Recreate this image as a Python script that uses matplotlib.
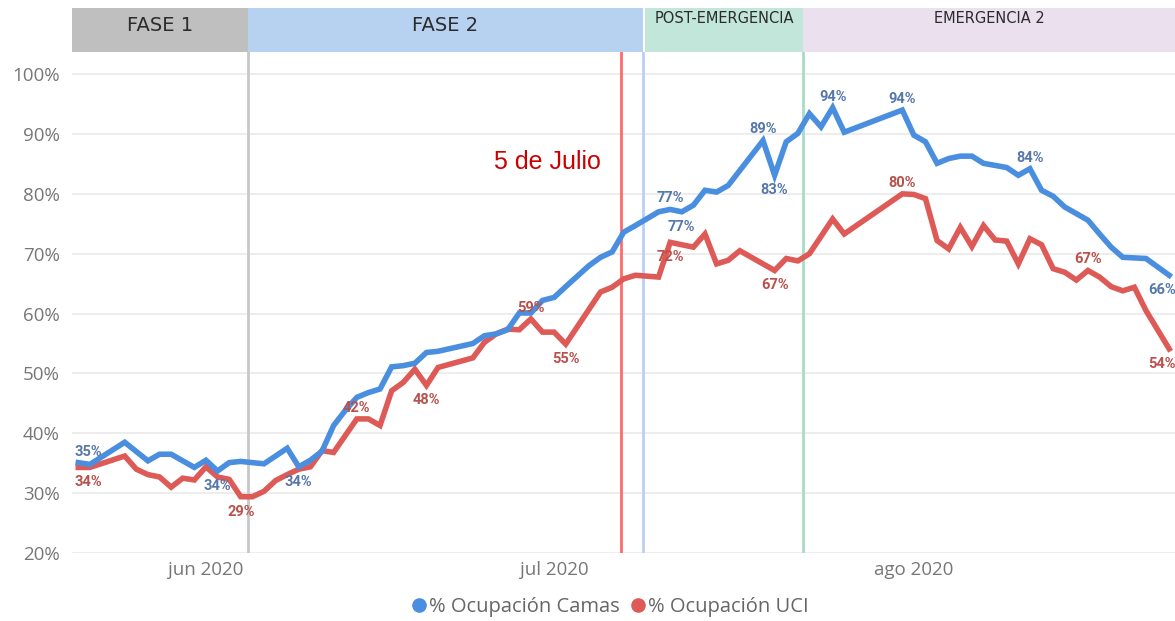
import numpy as np
import matplotlib
matplotlib.use("Agg")
import matplotlib.pyplot as plt
from matplotlib.lines import Line2D

# day 0 = 2020-05-21
start_date = np.datetime64("2020-05-21")

camas_days = [0, 1, 4, 6, 7, 8, 10, 11, 12, 13, 14, 16, 18, 19, 20, 21, 22, 23, 24, 25,
              26, 27, 28, 29, 30, 31, 34, 35, 36, 37, 38, 39, 40, 41, 42, 44, 45, 46, 47, 48,
              50, 51, 52, 53, 54, 55, 56, 59, 60, 61, 62, 63, 64, 65, 66, 71, 72, 73, 74, 75,
              76, 77, 78, 80, 81, 82, 83, 84, 85, 87, 88, 89, 90, 92, 94]
camas_vals = [35.1, 34.8, 38.5, 35.4, 36.5, 36.5, 34.3, 35.5, 33.7, 35.1, 35.3, 34.9, 37.5, 34.4, 35.5, 37.0, 41.3, 43.8, 46.0, 46.8,
              47.4, 51.1, 51.3, 51.7, 53.5, 53.7, 55.0, 56.3, 56.6, 57.3, 60.1, 60.1, 62.2, 62.7, 64.5, 68.0, 69.4, 70.3, 73.6, 74.7,
              77.0, 77.4, 77.0, 78.1, 80.6, 80.3, 81.4, 88.9, 83.1, 88.7, 90.1, 93.4, 91.2, 94.4, 90.3, 94.0, 89.8, 88.7, 85.1, 85.9,
              86.3, 86.3, 85.1, 84.4, 83.1, 84.2, 80.6, 79.6, 77.8, 75.6, 73.3, 71.1, 69.4, 69.2, 66.4]

uci_days = [0, 1, 4, 5, 6, 7, 8, 9, 10, 11, 12, 13, 14, 15, 16, 17, 18, 19, 20, 21,
            22, 24, 25, 26, 27, 28, 29, 30, 31, 34, 35, 36, 37, 38, 39, 40, 41, 42, 45, 46,
            47, 48, 50, 51, 53, 54, 55, 56, 57, 60, 61, 62, 63, 65, 66, 71, 72, 73, 74, 75,
            76, 77, 78, 79, 80, 81, 82, 83, 84, 85, 86, 87, 88, 89, 90, 91, 92, 94]
uci_vals = [34.3, 34.3, 36.2, 34.0, 33.1, 32.7, 31.0, 32.5, 32.2, 34.4, 32.7, 32.3, 29.4, 29.4, 30.3, 32.1, 33.1, 34.0, 34.4, 37.1,
            36.8, 42.4, 42.4, 41.3, 47.1, 48.5, 50.7, 48.0, 51.0, 52.6, 55.2, 56.6, 57.4, 57.3, 59.1, 56.9, 56.9, 54.9, 63.6, 64.4,
            65.8, 66.4, 66.1, 71.9, 71.1, 73.3, 68.3, 68.9, 70.5, 67.2, 69.2, 68.8, 70.0, 75.8, 73.3, 80.0, 79.9, 79.2, 72.2, 70.8,
            74.4, 71.2, 74.7, 72.3, 72.1, 68.3, 72.5, 71.5, 67.5, 66.9, 65.6, 67.2, 66.1, 64.5, 63.8, 64.4, 60.5, 54.1]

# which points carry a data label, and on which side
camas_label_days = [0, 12, 19, 51, 52, 59, 60, 65, 71, 82, 94]
camas_label_side = ["up", "down", "down", "up", "down", "up", "down", "up", "up", "up", "down"]
uci_label_days = [0, 14, 24, 30, 39, 42, 51, 60, 71, 87, 94]
uci_label_side = ["down", "down", "up", "down", "up", "down", "down", "down", "up", "up", "down"]

phase_names = ["FASE 1", "FASE 2", "POST-EMERGENCIA", "EMERGENCIA 2"]
phase_starts = ["2020-05-20T11:00", "2020-06-04T15:00", "2020-07-08T20:00", "2020-07-22T11:00"]
phase_ends = ["2020-06-04T15:00", "2020-07-08T16:00", "2020-07-22T11:00", "2020-08-23T12:00"]
phase_colors = ["#BFBFBF", "#B7D2F1", "#C2E6D9", "#EBE0EE"]
phase_line_colors = ["#C8C8C8", "#B9D0F0", "#A8DCC5", None]

marker_date = "2020-07-06T19:00"
marker_text = "5 de Julio"

month_ticks = ["2020-06-01", "2020-07-01", "2020-08-01"]
month_labels = ["jun 2020", "jul 2020", "ago 2020"]

BLUE = "#4A8EDF"
RED = "#DE5A57"
BLUE_TXT = "#5577AA"
RED_TXT = "#B9504C"


def to_dates(days):
    return start_date + np.array(days).astype("timedelta64[D]")


fig = plt.figure(figsize=(11.75, 6.21), dpi=100)
ax = fig.add_axes([72 / 1175, 1 - 553 / 621, 1 - 72 / 1175, 501 / 621])
axb = fig.add_axes([72 / 1175, 1 - 52 / 621, 1 - 72 / 1175, 44 / 621], sharex=ax)

x_camas = to_dates(camas_days)
x_uci = to_dates(uci_days)

ax.plot(x_camas, camas_vals, color=BLUE, lw=4, solid_joinstyle="miter", zorder=4)
ax.plot(x_uci, uci_vals, color=RED, lw=4, solid_joinstyle="miter", zorder=3)


def add_labels(days, vals, label_days, sides, color):
    for d, side in zip(label_days, sides):
        v = vals[days.index(d)]
        dy = 8 if side == "up" else -10.8
        dx, ha = 0, "center"
        if d == days[0]:
            dx, ha = -2.5, "left"
        elif d == days[-1]:
            dx, ha = 5, "right"
        ax.annotate(f"{round(v)}%", (to_dates([d])[0], v), xytext=(dx, dy),
                    textcoords="offset points", ha=ha, va="center",
                    fontsize=10.5, color=color, family="Roboto", fontweight="bold",
                    zorder=6, annotation_clip=False)


add_labels(camas_days, camas_vals, camas_label_days, camas_label_side, BLUE_TXT)
add_labels(uci_days, uci_vals, uci_label_days, uci_label_side, RED_TXT)

# phase bands and boundary lines
for name, s, e, c, lc in zip(phase_names, phase_starts, phase_ends, phase_colors, phase_line_colors):
    s, e = np.datetime64(s), np.datetime64(e)
    axb.axvspan(s, e, color=c, lw=0)
    mid = s + (e - s) / 2
    if name.startswith("FASE"):
        axb.text(mid, 0.6, name, ha="center", va="center", fontsize=14,
                 family="Liberation Sans Narrow", color="#2B2B2B")
    else:
        axb.text(mid, 0.77, name, ha="center", va="center", fontsize=10.5,
                 family="Liberation Sans Narrow", color="#2B2B2B")
    if lc is not None:
        ax.axvline(e, color=lc, lw=2, zorder=2)

ax.axvline(np.datetime64(marker_date), color="#FF6B6B", lw=2, zorder=2)
ax.text(np.datetime64(marker_date) - np.timedelta64(42, "h"), 85.4, marker_text,
        ha="right", va="center", fontsize=18, color="#CC0000", family="Liberation Sans")

axb.set_ylim(0, 1)
axb.axis("off")

ax.set_xlim(np.datetime64(phase_starts[0]), np.datetime64(phase_ends[-1]))
ax.set_ylim(20, 103.7)
ax.set_yticks([20, 30, 40, 50, 60, 70, 80, 90, 100])
ax.set_yticklabels([f"{v}%" for v in range(20, 101, 10)])
ax.set_xticks([np.datetime64(m) for m in month_ticks])
ax.set_xticklabels(month_labels)
ax.grid(axis="y", color="#EAEAEA", lw=1.2)
ax.set_axisbelow(True)
for sp in ax.spines.values():
    sp.set_visible(False)
ax.tick_params(axis="both", length=0, colors="#777777", labelsize=13.5)
ax.tick_params(axis="y", pad=9)
ax.tick_params(axis="x", pad=6)
for t in ax.get_xticklabels() + ax.get_yticklabels():
    t.set_family("Open Sans")

handles = [Line2D([], [], ls="", marker="o", ms=9.5, color=BLUE, label="% Ocupación Camas"),
           Line2D([], [], ls="", marker="o", ms=9.5, color=RED, label="% Ocupación UCI")]
leg = fig.legend(handles=handles, loc="center", bbox_to_anchor=(0.518, 0.023), ncol=2,
                 frameon=False, handletextpad=0.0, columnspacing=0.4, handlelength=1.0,
                 prop={"family": "Open Sans", "size": 14.5})
for t in leg.get_texts():
    t.set_color("#666666")

fig.savefig("out.png", dpi=100)
